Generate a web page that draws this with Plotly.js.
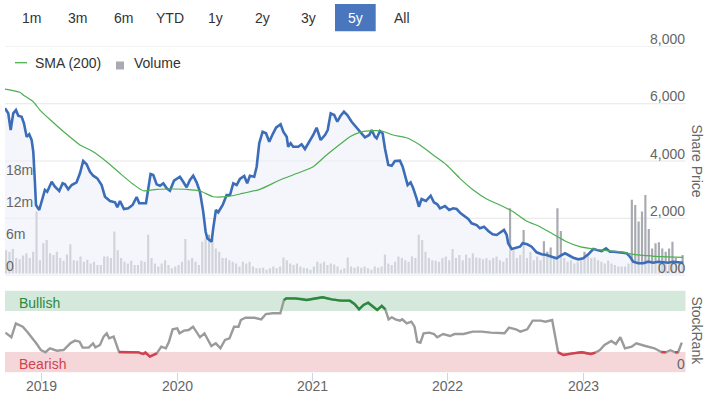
<!DOCTYPE html>
<html>
<head>
<meta charset="utf-8">
<script src="https://cdn.plot.ly/plotly-3.0.1.min.js"></script>
<style>html,body{margin:0;padding:0;background:#fff;}#chart{width:713px;height:393px;}</style>
</head>
<body>
<div id="chart"></div>
<script>
// ---------- DATA (decimal years) ----------
const priceDates = [
2018.727,2018.751,2018.769,2018.788,2018.808,2018.825,2018.850,2018.867,2018.887,2018.906,
2018.924,2018.936,2018.948,2018.956,2018.980,2018.998,2019.022,2019.039,2019.072,2019.096,
2019.128,2019.153,2019.170,2019.194,2019.220,2019.256,2019.281,2019.305,2019.330,2019.355,
2019.379,2019.409,2019.441,2019.466,2019.503,2019.540,2019.557,2019.577,2019.606,2019.638,
2019.670,2019.700,2019.719,2019.769,2019.803,2019.823,2019.848,2019.872,2019.897,2019.922,
2019.946,2019.976,2020.020,2020.044,2020.069,2020.094,2020.118,2020.143,2020.168,2020.192,
2020.210,2020.222,2020.254,2020.266,2020.286,2020.303,2020.336,2020.365,2020.390,2020.414,
2020.439,2020.463,2020.495,2020.517,2020.537,2020.569,2020.587,2020.606,2020.631,2020.656,
2020.680,2020.705,2020.730,2020.764,2020.784,2020.809,2020.820,2020.838,2020.857,2020.894,
2020.919,2020.944,2020.976,2021.005,2021.030,2021.060,2021.092,2021.112,2021.134,2021.160,
2021.183,2021.208,2021.232,2021.257,2021.289,2021.313,2021.356,2021.387,2021.419,2021.437,
2021.461,2021.474,2021.498,2021.518,2021.535,2021.560,2021.585,2021.609,2021.646,2021.666,
2021.683,2021.703,2021.725,2021.744,2021.769,2021.786,2021.806,2021.838,2021.873,2021.897,
2021.922,2021.942,2021.979,2022.010,2022.040,2022.065,2022.095,2022.126,2022.151,2022.176,
2022.213,2022.237,2022.267,2022.299,2022.331,2022.361,2022.390,2022.415,2022.435,2022.446,
2022.472,2022.503,2022.533,2022.553,2022.587,2022.619,2022.656,2022.693,2022.730,2022.767,
2022.804,2022.834,2022.866,2022.890,2022.927,2022.964,2023.001,2023.038,2023.075,2023.104,
2023.137,2023.169,2023.198,2023.228,2023.259,2023.292,2023.322,2023.346,2023.370,2023.407,
2023.444,2023.481,2023.518,2023.555,2023.592,2023.629,2023.666,2023.703,2023.740
];
const sharePrice = [
5840,5665,5082,5665,5780,5582,5547,5316,4848,4932,
4733,4324,3276,2463,2288,2578,2987,2927,3276,3102,
2952,3220,3185,3011,3161,3255,3570,4000,3884,3626,
3486,3395,3161,2752,2602,2557,2382,2602,2323,2347,
2463,2742,2522,2522,3545,3510,3185,3136,3220,3046,
2962,3311,3451,3276,3081,3336,3486,3255,2927,2228,
1530,1299,1181,1649,2288,2208,2463,2812,2812,3220,
3161,3371,3476,3220,3486,3451,3800,4618,5023,4967,
4674,4932,5163,5282,5023,4848,4499,4618,4499,4499,
4583,4419,4674,4908,5163,4733,4908,5082,5665,5606,
5372,5582,5722,5606,5372,5233,5002,4827,4908,5082,
4848,4792,5047,4967,4443,3860,3835,4000,4010,3800,
3510,3161,3255,3046,2697,2403,2672,2602,2787,2557,
2487,2347,2428,2288,2347,2323,2173,2054,1974,1823,
1764,1649,1705,1554,1439,1415,1509,1589,1415,1125,
926,971,1006,1125,1090,1006,810,741,716,657,
601,692,775,716,622,566,601,741,926,891,
856,950,831,831,810,810,775,657,482,426,
426,482,447,482,461,447,482,461,447
];
const smaDates = [2018.727,2018.837,2018.862,2018.936,2018.985,2019.059,2019.183,2019.281,2019.379,2019.478,
2019.577,2019.675,2019.749,2019.848,2019.970,2020.069,2020.168,2020.266,2020.365,2020.463,
2020.611,2020.759,2020.907,2021.005,2021.104,2021.203,2021.276,2021.350,2021.449,2021.511,
2021.596,2021.695,2021.794,2021.892,2021.991,2022.089,2022.188,2022.287,2022.385,2022.483,
2022.582,2022.681,2022.779,2022.878,2022.976,2023.075,2023.174,2023.272,2023.370,2023.469,
2023.568,2023.740];
const sma200 = [6514,6400,6305,6071,5780,5450,4932,4558,4324,3975,
3570,3185,2962,3011,3021,3011,2952,2752,2752,2847,
3011,3336,3605,3800,4209,4583,4848,5002,5058,5047,
4908,4813,4558,4209,3860,3395,2987,2672,2463,2228,
1904,1705,1439,1181,1006,926,866,831,741,692,
657,636];
const volumeDates = [
2018.735,2018.760,2018.785,2018.810,2018.835,2018.860,2018.885,2018.910,2018.935,2018.960,
2018.985,2019.010,2019.035,2019.060,2019.085,2019.110,2019.135,2019.160,2019.185,2019.210,
2019.235,2019.260,2019.285,2019.310,2019.335,2019.360,2019.385,2019.410,2019.435,2019.460,
2019.485,2019.510,2019.535,2019.560,2019.585,2019.610,2019.635,2019.660,2019.685,2019.710,
2019.735,2019.760,2019.785,2019.810,2019.835,2019.860,2019.885,2019.910,2019.935,2019.960,
2019.985,2020.010,2020.035,2020.060,2020.085,2020.110,2020.135,2020.160,2020.185,2020.210,
2020.235,2020.260,2020.285,2020.310,2020.335,2020.360,2020.385,2020.410,2020.435,2020.460,
2020.485,2020.510,2020.535,2020.560,2020.585,2020.610,2020.635,2020.660,2020.685,2020.710,
2020.735,2020.760,2020.785,2020.810,2020.835,2020.860,2020.885,2020.910,2020.935,2020.960,
2020.985,2021.010,2021.035,2021.060,2021.085,2021.110,2021.135,2021.160,2021.185,2021.210,
2021.235,2021.260,2021.285,2021.310,2021.335,2021.360,2021.385,2021.410,2021.435,2021.460,
2021.485,2021.510,2021.535,2021.560,2021.585,2021.610,2021.635,2021.660,2021.685,2021.710,
2021.735,2021.760,2021.785,2021.810,2021.835,2021.860,2021.885,2021.910,2021.935,2021.960,
2021.985,2022.010,2022.035,2022.060,2022.085,2022.110,2022.135,2022.160,2022.185,2022.210,
2022.235,2022.260,2022.285,2022.310,2022.335,2022.360,2022.385,2022.410,2022.435,2022.460,
2022.485,2022.510,2022.535,2022.560,2022.585,2022.610,2022.635,2022.660,2022.685,2022.710,
2022.735,2022.760,2022.785,2022.810,2022.835,2022.860,2022.885,2022.910,2022.935,2022.960,
2022.985,2023.010,2023.035,2023.060,2023.085,2023.110,2023.135,2023.160,2023.185,2023.210,
2023.235,2023.260,2023.285,2023.310,2023.335,2023.360,2023.385,2023.410,2023.435,2023.460,
2023.485,2023.510,2023.535,2023.560,2023.585,2023.610,2023.635,2023.660,2023.685,2023.710,
2023.735
];
// volume in millions
const volumeM = [
4.4,4.1,4.6,2.9,2.7,3.4,3.8,2.9,4.1,11.7,
2.5,5.7,6.3,3.8,3.5,4.1,2.9,2.4,3.6,5.5,
2.5,2.4,3.2,2.2,2.6,1.9,2.2,1.6,1.6,3.2,
3.2,2.9,7.9,4.4,2.9,2.2,1.9,2.4,1.6,1.6,
2.4,2.2,7.3,2.9,1.9,1.3,1.9,2.5,1.6,1.0,
1.3,1.6,2.2,6.5,2.5,2.9,2.2,1.6,6.0,6.6,
7.3,6.6,4.7,4.1,2.9,2.9,2.5,2.2,1.9,1.3,
2.2,1.9,2.2,1.3,1.0,1.0,1.1,0.7,1.0,1.3,
1.0,1.3,3.0,2.5,1.9,1.6,1.9,1.3,1.1,1.0,
0.7,1.3,2.2,1.9,2.2,1.6,1.9,1.7,1.3,0.7,
1.0,3.0,1.3,1.1,1.3,1.1,1.3,1.0,0.7,1.3,
1.1,1.3,3.6,1.9,1.6,2.2,3.2,2.9,2.5,2.2,
3.2,2.9,7.3,6.3,4.1,2.9,2.5,2.4,2.2,2.9,
3.2,2.5,4.6,2.9,3.5,2.5,3.6,2.9,3.8,3.0,
2.9,2.7,2.9,2.5,2.9,3.2,2.5,2.2,2.9,12.3,
4.4,2.9,3.5,8.2,2.9,4.1,2.5,3.2,2.5,6.1,
4.1,4.9,2.9,12.3,8.0,2.9,2.2,2.5,1.9,2.2,
2.5,4.1,3.5,2.9,3.0,2.5,2.2,1.9,2.4,1.9,
1.6,1.3,1.3,1.3,1.9,13.9,12.9,9.8,11.7,14.8,
8.4,4.7,5.7,5.9,4.7,4.1,4.7,6.0,2.9,2.2,
3.5
];
const rankDates = [
2018.730,2018.774,2018.807,2018.858,2018.891,2018.925,2018.958,2018.992,2019.026,2019.059,
2019.110,2019.160,2019.210,2019.244,2019.278,2019.301,2019.345,2019.378,2019.395,2019.429,
2019.456,2019.479,2019.496,2019.530,2019.570,2019.630,2019.681,2019.714,2019.748,2019.765,
2019.798,2019.849,2019.882,2019.916,2019.939,2019.966,2020.000,2020.017,2020.050,2020.084,
2020.117,2020.151,2020.168,2020.201,2020.252,2020.285,2020.319,2020.353,2020.386,2020.420,
2020.453,2020.470,2020.504,2020.571,2020.621,2020.655,2020.705,2020.762,2020.789,2020.806,
2020.873,2020.924,2020.957,2021.008,2021.075,2021.142,2021.209,2021.276,2021.310,2021.344,
2021.377,2021.411,2021.444,2021.478,2021.512,2021.538,2021.562,2021.586,2021.612,2021.646,
2021.663,2021.696,2021.730,2021.754,2021.774,2021.797,2021.821,2021.864,2021.898,2021.921,
2021.965,2022.016,2022.049,2022.116,2022.184,2022.251,2022.318,2022.385,2022.419,2022.452,
2022.503,2022.536,2022.587,2022.627,2022.687,2022.721,2022.771,2022.815,2022.855,2022.923,
2022.990,2023.057,2023.091,2023.124,2023.158,2023.208,2023.242,2023.275,2023.309,2023.359,
2023.393,2023.460,2023.527,2023.578,2023.611,2023.645,2023.679,2023.702,2023.729
];
const stockRank = [
48.6,42.9,60.0,55.9,49.8,42.9,35.5,27.3,24.6,29.4,
26.5,27.3,35.5,38.8,37.5,30.2,30.2,35.5,30.6,33.5,
43.7,47.8,41.6,43.7,24.8,24.6,24.1,24.4,22.4,24.2,
19.2,23.2,31.4,29.4,37.5,52.7,53.9,47.8,51.0,51.8,
55.9,46.9,42.9,47.8,32.2,35.5,29.4,39.6,41.6,55.9,
55.9,64.1,66.9,66.9,64.9,71.4,72.3,72.3,88.6,90.6,
90.6,89.8,88.6,90.2,91.9,89.4,87.8,87.8,83.7,77.2,
82.5,85.3,80.4,76.5,81.3,77.2,64.9,67.4,64.9,63.3,
64.9,60.0,62.0,55.9,37.5,36.3,47.8,48.6,46.9,42.9,
46.9,44.5,46.9,46.9,49.8,49.8,48.6,48.6,47.8,54.7,
52.7,49.8,52.7,63.3,63.3,62.0,64.1,24.5,21.2,23.2,
24.5,22.4,24.1,27.3,33.5,38.4,34.7,42.9,29.4,31.4,
35.5,32.2,29.4,24.8,24.5,27.0,24.4,24.6,36.3
];
const yearTicks = [2019,2020,2021,2022,2023];
const yearLabels = ['2019','2020','2021','2022','2023'];
const priceTicks = [0,2000,4000,6000,8000];
const priceLabels = ['0.00','2,000','4,000','6,000','8,000'];
const volTicks = [0,6,12,18];
const volLabels = ['0','6m','12m','18m'];
const rankTicks = [0];
const rankLabels = ['0'];
const rangeButtons = ['1m','3m','6m','YTD','1y','2y','3y','5y','All'];
const bullishLevel = 75, bearishLevel = 25;

// ---------- LAYOUT HELPERS ----------
const W = 713, H = 393;
const px = v => v / W;
const py = v => 1 - v / H;
const FONT = 'Liberation Sans, Arial, Helvetica, sans-serif';
const xDom = [px(5), px(685.7)];
const xRange = [2018.727, 2023.758];

const rankGreen = stockRank.map(v => v >= bullishLevel ? v : null);
const rankRed = stockRank.map(v => v <= bearishLevel ? v : null);

const traces = [
  {type:'bar', x:volumeDates, y:volumeM, xaxis:'x', yaxis:'y', width:0.016,
   marker:{color:'#a7aab0', line:{width:0}}, hoverinfo:'skip', name:'Volume'},
  {type:'scatter', mode:'lines', x:priceDates, y:sharePrice, xaxis:'x', yaxis:'y2',
   fill:'tozeroy', fillcolor:'rgba(236,240,248,0.6)', line:{color:'#3c6db8', width:2.6}, name:'Price'},
  {type:'scatter', mode:'lines', x:smaDates, y:sma200, xaxis:'x', yaxis:'y2',
   line:{color:'#4caf50', width:1.2, shape:'spline', smoothing:0.6}, name:'SMA (200)'},
  {type:'scatter', mode:'lines', x:rankDates, y:stockRank, xaxis:'x2', yaxis:'y3',
   line:{color:'#9b9b9b', width:2.4}, name:'StockRank'},
  {type:'scatter', mode:'lines', x:rankDates, y:rankGreen, xaxis:'x2', yaxis:'y3',
   line:{color:'#2a8a3c', width:2.4}, connectgaps:false, name:'Bullish'},
  {type:'scatter', mode:'lines', x:rankDates, y:rankRed, xaxis:'x2', yaxis:'y3',
   line:{color:'#d5404e', width:2.4}, connectgaps:false, name:'Bearish'}
];

const tickFont = {family:FONT, size:14, color:'#666666'};
const annotations = [];
const btnX = [31.7,77,123.3,170,215.5,262.5,308.8,355.3,401.7];
rangeButtons.forEach((t,i) => annotations.push({
  xref:'paper', yref:'paper', x:px(btnX[i]), y:py(18), text:t, showarrow:false,
  xanchor:'center', yanchor:'middle', font:{family:FONT, size:14, color: t==='5y' ? '#ffffff' : '#333333'}
}));
// axis tick labels (placed from the axes' own scales)
priceTicks.forEach((v,i) => annotations.push({
  xref:'paper', yref:'y2', x:px(686.5), y:v, yshift:7.5, text:priceLabels[i], showarrow:false,
  xanchor:'right', yanchor:'middle', font:tickFont
}));
volTicks.forEach((v,i) => annotations.push({
  xref:'paper', yref:'y', x:px(3.5), y:v, yshift:7.8, text:volLabels[i], showarrow:false,
  xanchor:'left', yanchor:'middle', font:tickFont
}));
rankTicks.forEach((v,i) => annotations.push({
  xref:'paper', yref:'y3', x:px(686.5), y:v, yshift:8.3, text:rankLabels[i], showarrow:false,
  xanchor:'right', yanchor:'middle', font:tickFont
}));
yearTicks.forEach((v,i) => annotations.push({
  xref:'x2', yref:'paper', x:v, y:py(385.5), text:yearLabels[i], showarrow:false,
  xanchor:'center', yanchor:'middle', font:tickFont
}));
annotations.push(
  {xref:'paper', yref:'paper', x:px(33), y:py(63.3), text:'SMA (200)', showarrow:false,
   xanchor:'left', yanchor:'middle', font:{family:FONT, size:14, color:'#333333'}},
  {xref:'paper', yref:'paper', x:px(131.5), y:py(63.3), text:'Volume', showarrow:false,
   xanchor:'left', yanchor:'middle', font:{family:FONT, size:14, color:'#333333'}},
  {xref:'paper', yref:'paper', x:px(697), y:py(160.5), text:'Share Price', showarrow:false, textangle:90,
   xanchor:'center', yanchor:'middle', font:{family:FONT, size:14, color:'#666666'}},
  {xref:'paper', yref:'paper', x:px(697), y:py(330.5), text:'StockRank', showarrow:false, textangle:90,
   xanchor:'center', yanchor:'middle', font:{family:FONT, size:14, color:'#666666'}},
  {xref:'paper', yref:'paper', x:px(16.5), y:py(303), text:'Bullish', showarrow:false,
   xanchor:'left', yanchor:'middle', font:{family:FONT, size:14, color:'#2a8a3c'}},
  {xref:'paper', yref:'paper', x:px(16.5), y:py(364), text:'Bearish', showarrow:false,
   xanchor:'left', yanchor:'middle', font:{family:FONT, size:14, color:'#d5404e'}}
);

const shapes = [
  {type:'rect', xref:'paper', yref:'paper', x0:px(335), x1:px(375.7), y0:py(31.3), y1:py(4),
   fillcolor:'#4a76bd', line:{width:0}, layer:'below'},
  {type:'line', xref:'paper', yref:'paper', x0:px(15), x1:px(27), y0:py(62.7), y1:py(62.7),
   line:{color:'#4caf50', width:1.3}},
  {type:'rect', xref:'paper', yref:'paper', x0:px(116), x1:px(124), y0:py(69.5), y1:py(61.5),
   fillcolor:'#a9abb0', line:{width:0}},
  {type:'rect', xref:'x2', yref:'y3', x0:xRange[0], x1:xRange[1], y0:bullishLevel, y1:100,
   fillcolor:'#d5e8dc', line:{width:0}, layer:'below'},
  {type:'rect', xref:'x2', yref:'y3', x0:xRange[0], x1:xRange[1], y0:0, y1:bearishLevel,
   fillcolor:'#f5d6d9', line:{width:0}, layer:'below'}
];
// price gridlines
priceTicks.forEach(v => shapes.push({type:'line', xref:'paper', yref:'y2', x0:xDom[0], x1:xDom[1],
  y0:v, y1:v, line:{color:'#e6e6e6', width:1}, layer:'below'}));
[0,100].forEach(v => shapes.push({type:'line', xref:'paper', yref:'y3', x0:xDom[0], x1:xDom[1],
  y0:v, y1:v, line:{color:'#e6e6e6', width:1}, layer:'below'}));

const layout = {
  width:W, height:H, margin:{l:0, r:0, t:0, b:0},
  paper_bgcolor:'#ffffff', plot_bgcolor:'rgba(0,0,0,0)',
  showlegend:false, font:{family:FONT},
  xaxis:{domain:xDom, range:xRange, anchor:'y', showticklabels:false, showgrid:false,
         zeroline:false, ticks:'', showline:false, fixedrange:true},
  yaxis:{domain:[py(275.5), py(46.5)], range:[-0.38, 42.83], anchor:'x', side:'left',
         tickvals:volTicks, showticklabels:false, showgrid:false, zeroline:false, ticks:'', fixedrange:true},
  yaxis2:{overlaying:'y', anchor:'x', side:'right', range:[0,8000],
          tickvals:priceTicks, showticklabels:false, showgrid:false, zeroline:false, ticks:'', fixedrange:true},
  xaxis2:{domain:xDom, range:xRange, anchor:'y3', tickvals:yearTicks, showticklabels:false,
          ticks:'outside', ticklen:8, tickcolor:'#ccd6eb', tickwidth:1,
          showgrid:false, zeroline:false, showline:false, fixedrange:true},
  yaxis3:{domain:[py(372.3), py(290.7)], range:[0,100], anchor:'x2', side:'right',
          tickvals:rankTicks, showticklabels:false, showgrid:false, zeroline:false, ticks:'', fixedrange:true},
  annotations:annotations, shapes:shapes
};

Plotly.newPlot('chart', traces, layout, {displayModeBar:false, staticPlot:true});
</script>
</body>
</html>
